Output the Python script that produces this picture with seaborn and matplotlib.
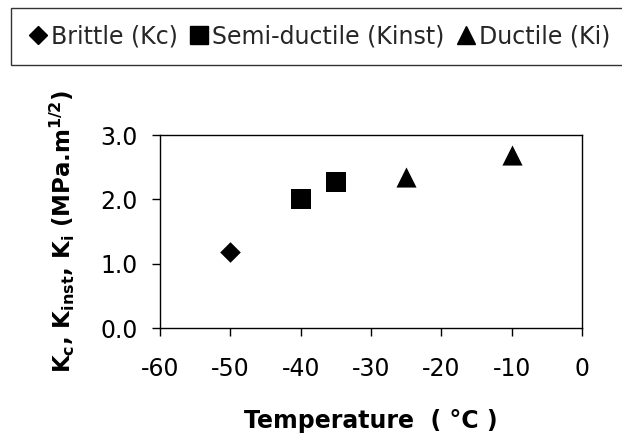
import matplotlib
matplotlib.use("Agg")
import matplotlib.pyplot as plt
import seaborn as sns
import pandas as pd
from matplotlib.lines import Line2D

temps = [-50, -40, -35, -25, -10]
k_values = [1.18, 2.01, 2.27, 2.35, 2.69]
types = ["Brittle (Kc)", "Semi-ductile (Kinst)", "Semi-ductile (Kinst)", "Ductile (Ki)", "Ductile (Ki)"]
categories = ["Brittle (Kc)", "Semi-ductile (Kinst)", "Ductile (Ki)"]
x_ticks = [-60, -50, -40, -30, -20, -10, 0]
y_ticks = [0.0, 1.0, 2.0, 3.0]

sns.set_theme(style="white")
plt.rcParams['font.family'] = ['DejaVu Sans']
plt.rcParams['mathtext.fontset'] = 'custom'
plt.rcParams['mathtext.rm'] = 'DejaVu Sans:bold'
plt.rcParams['mathtext.it'] = 'DejaVu Sans:bold'
plt.rcParams['mathtext.bf'] = 'DejaVu Sans:bold'

df = pd.DataFrame({"T": temps, "K": k_values, "type": types})
markers = {"Brittle (Kc)": "D", "Semi-ductile (Kinst)": "s", "Ductile (Ki)": "^"}
sizes_map = {"Brittle (Kc)": 110, "Semi-ductile (Kinst)": 200, "Ductile (Ki)": 210}

fig = plt.figure(figsize=(6.22, 4.4), dpi=100)
ax = fig.add_axes([160/622, 1-328/440, 422/622, 193/440])

for cat in categories:
    sub = df[df["type"] == cat]
    sns.scatterplot(data=sub, x="T", y="K", marker=markers[cat], s=sizes_map[cat],
                    color="black", edgecolor="black", linewidth=0, ax=ax, legend=False)

ax.set_xlim(-60, 0)
ax.set_ylim(0, 3.0)
ax.set_xticks(x_ticks)
ax.set_xticklabels([str(v) for v in x_ticks])
ax.set_yticks(y_ticks)
ax.set_yticklabels([f"{v:.1f}" for v in y_ticks])
ax.tick_params(axis='both', direction='out', length=6, width=1, color='black',
               labelsize=17, labelcolor='black')
ax.tick_params(axis='x', pad=15)
ax.tick_params(axis='y', pad=10)
ax.tick_params(bottom=True, left=True)
for sp in ax.spines.values():
    sp.set_color('black')
    sp.set_linewidth(1.0)
    sp.set_visible(True)

ax.set_xlabel("Temperature  ( °C )", fontsize=17, fontweight='bold', labelpad=20, color='black')
ax.set_ylabel(r"K$_c$, K$_{inst}$, K$_i$ (MPa.m$^{1/2}$)", fontsize=16.5,
              fontweight='bold', labelpad=17, color='black')

handles = [Line2D([], [], marker=markers[c], color='black', linestyle='none',
                  markersize={"Brittle (Kc)": 9, "Semi-ductile (Kinst)": 13, "Ductile (Ki)": 13}[c])
           for c in categories]
leg = fig.legend(handles, categories, loc='upper left', bbox_to_anchor=(11/622, 1-8/440),
                 ncol=3, frameon=True, fancybox=False, edgecolor='black', fontsize=17,
                 handletextpad=0.1, columnspacing=0.45, handlelength=0.9, borderpad=0.7,
                 borderaxespad=0)
leg.get_frame().set_linewidth(1.0)

fig.savefig("out.png", dpi=100)
